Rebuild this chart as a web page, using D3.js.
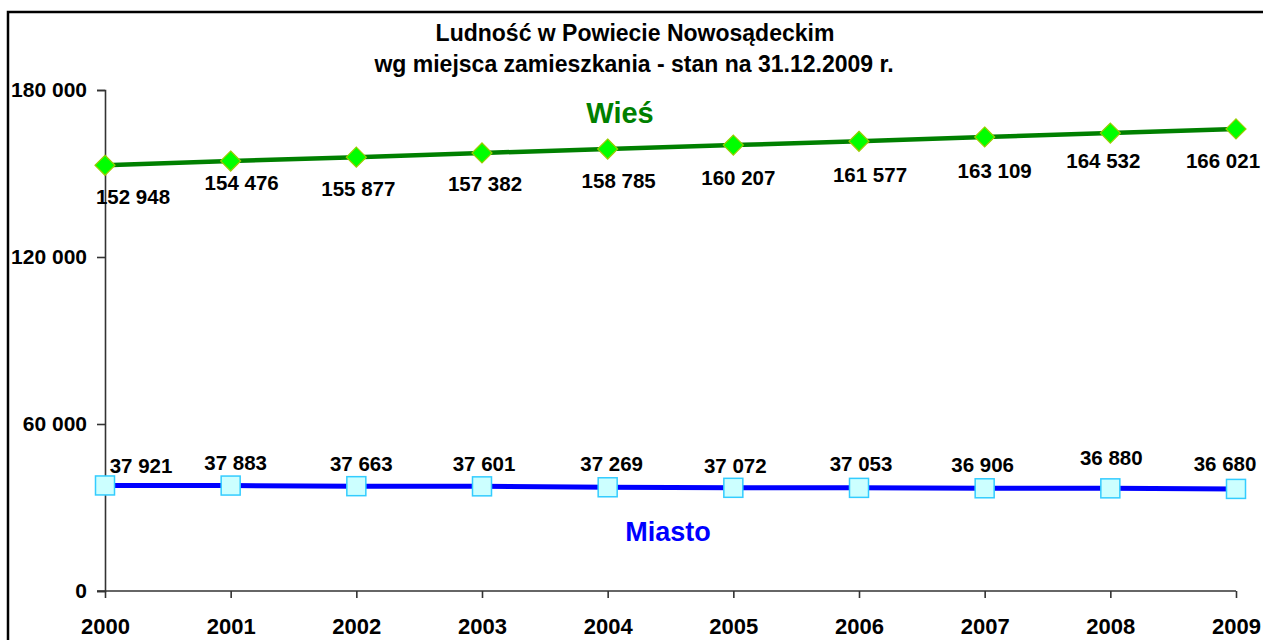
<!DOCTYPE html>
<html><head><meta charset="utf-8">
<script src="https://cdn.jsdelivr.net/npm/d3@7"></script>
<style>
html,body{margin:0;padding:0;background:#fff;}
svg{display:block;font-family:Arial,"Liberation Sans",sans-serif;font-weight:bold;}
</style></head>
<body>
<svg id="chart" width="1263" height="640"></svg>
<script>
const years = ["2000","2001","2002","2003","2004","2005","2006","2007","2008","2009"];
const wiesValues = [152948,154476,155877,157382,158785,160207,161577,163109,164532,166021];
const miastoValues = [37921,37883,37663,37601,37269,37072,37053,36906,36880,36680];
const yTicks = [0,60000,120000,180000];
const titleLines = ["Ludność w Powiecie Nowosądeckim","wg miejsca zamieszkania - stan na 31.12.2009 r."];
const seriesNames = ["Wieś","Miasto"];

// label nudges (layout only)
const wiesLabelDx = [28,11,2,3,11,5,11,10,-7,-13];
const wiesLabelDy = [31,22,31,31,32,33,33,34,28,32];
const miastoLabelDx = [36,5,5,2,4,2,2,-2,1,-11];
const miastoLabelDy = [-20,-23,-23,-23,-24,-22,-24,-24,-31,-25];

const svg = d3.select("#chart");
const fmt = v => d3.format(",")(v).replace(/,/g," ");

// outer frame
svg.append("rect").attr("x",8).attr("y",12).attr("width",1300).attr("height",700)
  .attr("fill","none").attr("stroke","#000").attr("stroke-width",2.5);

const x = d3.scalePoint().domain(years).range([105,1236]);
const y = d3.scaleLinear().domain([0,180000]).range([591,90]);

// title
svg.append("text").attr("x",635).attr("y",41).attr("text-anchor","middle")
  .attr("font-size",23).attr("fill","#000").text(titleLines[0]);
svg.append("text").attr("x",634).attr("y",72).attr("text-anchor","middle")
  .attr("font-size",23).attr("fill","#000").text(titleLines[1]);

// y axis
const yAxis = svg.append("g").attr("transform","translate(105,0)")
  .call(d3.axisLeft(y).tickValues(yTicks).tickSize(8).tickPadding(10).tickFormat(fmt));
yAxis.select(".domain").attr("stroke","#333").attr("stroke-width",1.6);
yAxis.selectAll(".tick line").attr("stroke","#333").attr("stroke-width",1.6);
yAxis.selectAll(".tick text").attr("font-size",21).attr("font-family",null).attr("fill","#000");

// x axis
const xAxis = svg.append("g").attr("transform","translate(0,591)")
  .call(d3.axisBottom(x).tickSize(7).tickPadding(20));
xAxis.select(".domain").attr("d","M97,0H1236").attr("stroke","#333").attr("stroke-width",1.6);
xAxis.selectAll(".tick line").attr("stroke","#333").attr("stroke-width",1.6);
xAxis.selectAll(".tick text").attr("font-size",22).attr("font-family",null).attr("fill","#000");
svg.selectAll(".tick text").attr("font-weight","bold");

const line = d3.line().x((d,i)=>x(years[i])).y(d=>y(d));

// Wieś
svg.append("path").datum(wiesValues).attr("d",line).attr("fill","none")
  .attr("stroke","#008000").attr("stroke-width",4.5);
svg.selectAll(".wm").data(wiesValues).enter().append("path")
  .attr("transform",(d,i)=>`translate(${x(years[i])},${y(d)})`)
  .attr("d","M0,-10L10,0L0,10L-10,0Z")
  .attr("fill","#00ff00").attr("stroke","#99cc00").attr("stroke-width",1.2);
svg.selectAll(".wl").data(wiesValues).enter().append("text")
  .attr("x",(d,i)=>x(years[i])+wiesLabelDx[i])
  .attr("y",(d,i)=>y(d)+wiesLabelDy[i]).attr("dy","0.36em")
  .attr("text-anchor","middle").attr("font-size",20.5).attr("fill","#000").text(fmt);

// Miasto
svg.append("path").datum(miastoValues).attr("d",line).attr("fill","none")
  .attr("stroke","#0000ff").attr("stroke-width",5);
svg.selectAll(".mm").data(miastoValues).enter().append("rect")
  .attr("x",(d,i)=>x(years[i])-9.5).attr("y",d=>y(d)-9.5)
  .attr("width",19).attr("height",19)
  .attr("fill","#ccffff").attr("stroke","#33ccff").attr("stroke-width",1.5);
svg.selectAll(".ml").data(miastoValues).enter().append("text")
  .attr("x",(d,i)=>x(years[i])+miastoLabelDx[i])
  .attr("y",(d,i)=>y(d)+miastoLabelDy[i]).attr("dy","0.36em")
  .attr("text-anchor","middle").attr("font-size",20.5).attr("fill","#000").text(fmt);

// series names
svg.append("text").attr("x",620).attr("y",123).attr("text-anchor","middle")
  .attr("font-size",29).attr("fill","#008000").text(seriesNames[0]);
svg.append("text").attr("x",668).attr("y",541).attr("text-anchor","middle")
  .attr("font-size",27).attr("fill","#0000ff").text(seriesNames[1]);
</script>
</body></html>
